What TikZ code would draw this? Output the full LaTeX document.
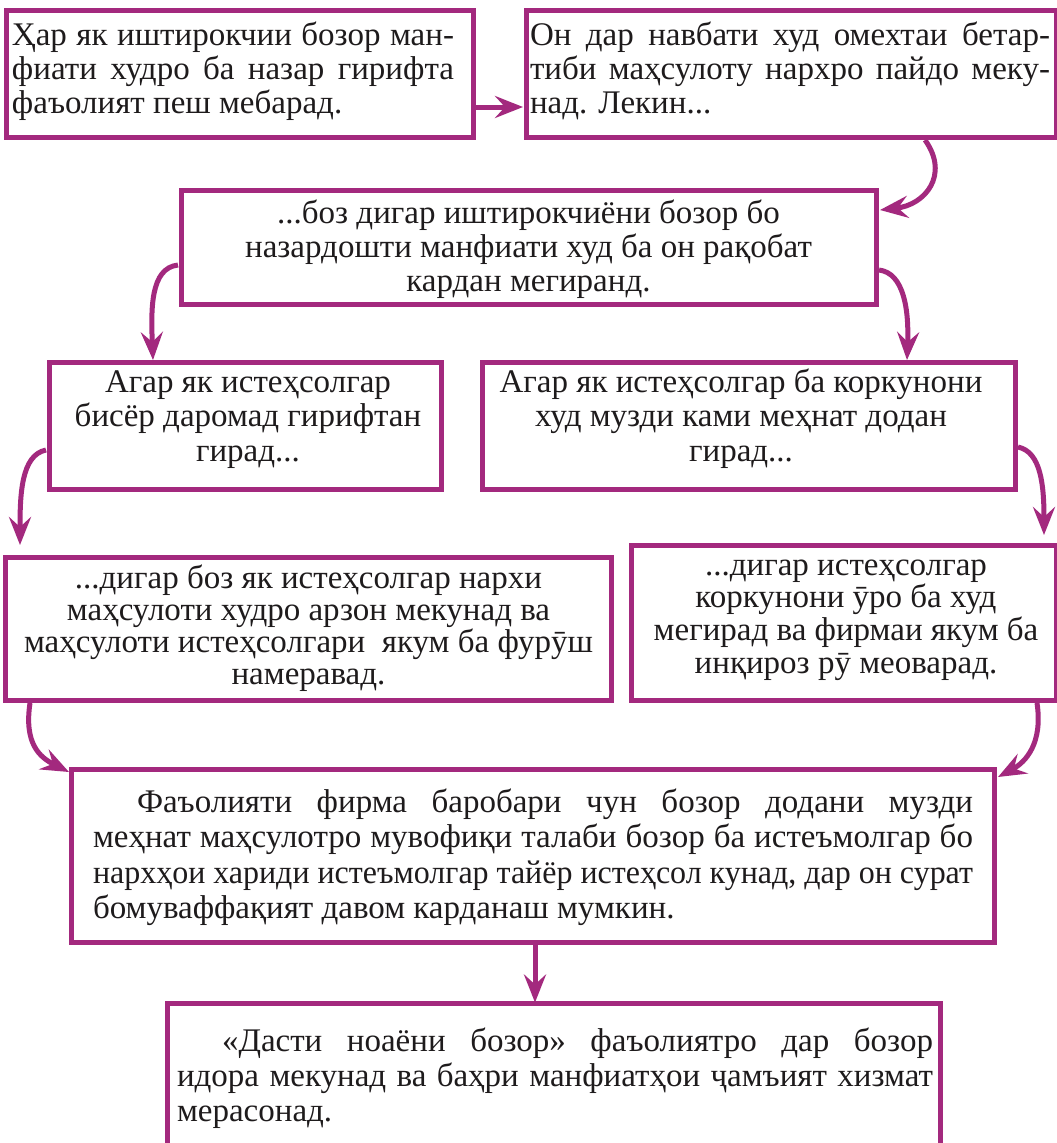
\documentclass[tikz,border=0pt]{standalone}
\usepackage{fontspec}
\usepackage{graphicx}
\setmainfont{Liberation Serif}
\usetikzlibrary{arrows.meta,calc}
\definecolor{mag}{RGB}{163,41,126}
\definecolor{ink}{RGB}{30,27,28}
\newlength\jlw
\newcommand\jl[2]{\settowidth\jlw{#2}\ifdim\jlw>#1\relax\resizebox{#1}{\height}{#2}\else\makebox[#1][s]{#2}\fi}
\newcommand\lstack[2]{\vtop{\baselineskip=#1\lineskiplimit=-\maxdimen #2}}
\newcommand\cstack[2]{\vtop{\baselineskip=#1\lineskiplimit=-\maxdimen\halign{\hfil##\hfil\cr#2\crcr}}}
\begin{document}
\begin{tikzpicture}[x=1pt,y=-1pt,
  box/.style={draw=mag, line width=5pt, fill=white, rectangle, inner sep=0pt, outer sep=0pt},
  arr/.style={draw=mag, line width=5pt, -{Stealth[length=28pt,width=22pt,inset=10pt]}},
  txt/.style={inner sep=0pt, outer sep=0pt, text=ink, font=\fontsize{33pt}{33pt}\selectfont}]
\useasboundingbox (0,0) rectangle (1057,1143);
\clip (0,0) rectangle (1057,1143);
\fill[white] (0,0) rectangle (1057,1143);

% boxes
\node[box, minimum width=467pt, minimum height=127.5pt] (b1) at (239.5,73.75) {};
\node[box, minimum width=530pt, minimum height=127.5pt] (b2) at (791,73.75) {};
\node[box, minimum width=695pt, minimum height=114.5pt] (b3) at (528.5,247.25) {};
\node[box, minimum width=392pt, minimum height=127pt] (b4) at (245,426) {};
\node[box, minimum width=533pt, minimum height=127pt] (b5) at (748.5,426) {};
\node[box, minimum width=606pt, minimum height=143pt] (b6) at (308,629) {};
\node[box, minimum width=425pt, minimum height=155pt] (b7) at (843.5,623) {};
\node[box, minimum width=923pt, minimum height=172.5pt] (b8) at (532.5,855.75) {};
\node[box, minimum width=773pt, minimum height=156.5pt] (b9) at (554,1081.75) {};

% texts
\node[txt, anchor=base west] (t1) at (12,45) {\lstack{34pt}{%
  \hbox{\jl{442pt}{Ҳар як иштирокчии бозор ман-}}%
  \hbox{\jl{442pt}{фиати худро ба назар гирифта}}%
  \hbox{фаъолият пеш мебарад.}}};
\node[txt, anchor=base west] (t2) at (530,45) {\lstack{34pt}{%
  \hbox{\jl{520pt}{Он дар навбати худ омехтаи бетар-}}%
  \hbox{\jl{520pt}{тиби маҳсулоту нархро пайдо меку-}}%
  \hbox{над. Лекин...}}};
\node[txt, anchor=base] (t3) at (528.5,223) {\cstack{34pt}{%
  ...боз дигар иштирокчиёни бозор бо\cr
  назардошти манфиати худ ба он рақобат\cr
  кардан мегиранд.}};
\node[txt, anchor=base] (t4) at (248,392) {\cstack{34.5pt}{%
  Агар як истеҳсолгар\cr
  бисёр даромад гирифтан\cr
  гирад...}};
\node[txt, anchor=base] (t5) at (741,392) {\cstack{34.5pt}{%
  Агар як истеҳсолгар ба коркунони\cr
  худ музди ками меҳнат додан\cr
  гирад...}};
\node[txt, anchor=base] (t6) at (308.5,588) {\cstack{32pt}{%
  ...дигар боз як истеҳсолгар нархи\cr
  маҳсулоти худро арзон мекунад ва\cr
  маҳсулоти истеҳсолгари\ \ якум ба фурӯш\cr
  намеравад.}};
\node[txt, anchor=base] (t7) at (846,575) {\cstack{32.7pt}{%
  ...дигар истеҳсолгар\cr
  коркунони ӯро ба худ\cr
  мегирад ва фирмаи якум ба\cr
  инқироз рӯ меоварад.}};
\node[txt, anchor=base west] (t8) at (93,812) {\lstack{35.5pt}{%
  \hbox{\kern44pt\jl{836pt}{Фаъолияти фирма баробари чун бозор додани музди}}%
  \hbox{\jl{880pt}{меҳнат маҳсулотро мувофиқи талаби бозор ба истеъмолгар бо}}%
  \hbox{\jl{880pt}{нархҳои хариди истеъмолгар тайёр истеҳсол кунад, дар он сурат}}%
  \hbox{бомуваффақият давом карданаш мумкин.}}};
\node[txt, anchor=base west] (t9) at (177,1051) {\lstack{35pt}{%
  \hbox{\kern45pt\jl{711pt}{«Дасти ноаёни бозор» фаъолиятро дар бозор}}%
  \hbox{\jl{756pt}{идора мекунад ва баҳри манфиатҳои ҷамъият хизмат}}%
  \hbox{мерасонад.}}};

% connectors
\draw[arr] ([xshift=3pt,yshift=-33.25pt]b1.east) -- ([xshift=-3pt,yshift=-33.25pt]b2.west);
\draw[arr] ([xshift=134pt,yshift=-2.5pt]b2.south) .. controls +(25,35) and +(45,-5) .. ([xshift=4pt,yshift=37.25pt]b3.east);
\draw[arr] ([xshift=-3pt,yshift=-17.75pt]b3.west) .. controls +(-28,3) and +(-2,-50) .. ([xshift=-92pt,yshift=2.5pt]b4.north);
\draw[arr] ([xshift=3pt,yshift=-22.75pt]b3.east) .. controls +(25,3) and +(2,-50) .. ([xshift=158.5pt,yshift=2.5pt]b5.north);
\draw[arr] ([xshift=-3pt,yshift=-24pt]b4.west) .. controls +(-25,5) and +(0,-50) .. ([xshift=-288pt,yshift=12.5pt]b6.north);
\draw[arr] ([xshift=3pt,yshift=-21pt]b5.east) .. controls +(23,5) and +(0,-50) .. ([xshift=200.5pt,yshift=10.5pt]b7.north);
\draw[arr] ([xshift=-278pt,yshift=-2.5pt]b6.south) .. controls +(-6,40) and +(-30,-15) .. ([xshift=-2pt,yshift=-2.5pt]b8.north west);
\draw[arr] ([xshift=193.5pt,yshift=-2.5pt]b7.south) .. controls +(6,40) and +(28,-15) .. ([xshift=4pt,yshift=78.75pt]b8.east);
\draw[arr] ([xshift=2.5pt,yshift=-3pt]b8.south) -- ([xshift=-19pt,yshift=1pt]b9.north);
\end{tikzpicture}
\end{document}
